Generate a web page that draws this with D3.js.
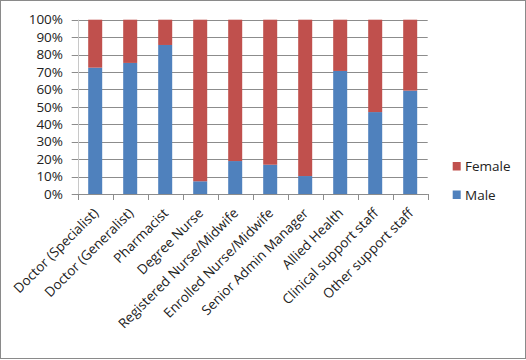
<!DOCTYPE html>
<html><head><meta charset="utf-8">
<script src="https://cdn.jsdelivr.net/npm/d3@7"></script>
<style>body{margin:0;background:#fff}svg{display:block}text{font-family:"Open Sans",sans-serif;fill:#222}</style>
</head><body><svg id="c" width="526" height="360"></svg>
<script>
const categories = ["Doctor (Specialist)","Doctor (Generalist)","Pharmacist","Degree Nurse","Registered Nurse/Midwife","Enrolled Nurse/Midwife","Senior Admin Manager","Allied Health","Clinical support staff","Other support staff"];
const male = [72.5, 75.2, 85.5, 7.3, 18.9, 16.8, 10.3, 70.6, 47.0, 59.3];
const female = male.map(v => 100 - v);
const yTicks = [0,10,20,30,40,50,60,70,80,90,100];
const seriesNames = ["Female","Male"];
const colors = {Male:"#4F81BD", Female:"#C0504D"};

const svg = d3.select("#c");
svg.append("rect").attr("x",0.5).attr("y",0.5).attr("width",525).attr("height",358).attr("fill","#fff").attr("stroke","#8a8a8a");

const L=77.7, R=427.7, T=19.7, B=194;
const x = d3.scaleBand().domain(categories).range([L,R]).paddingInner(0.6).paddingOuter(0.3);
const y = d3.scaleLinear().domain([0,100]).range([B,T]);

// gridlines
svg.append("g").selectAll("line").data(yTicks).join("line")
  .attr("x1",L-6).attr("x2",R).attr("y1",d=>Math.round(y(d))+0.5).attr("y2",d=>Math.round(y(d))+0.5)
  .attr("stroke","#8c8c8c").attr("stroke-width",1);
// y axis line
svg.append("line").attr("x1",Math.round(L)+0.5).attr("x2",Math.round(L)+0.5).attr("y1",T).attr("y2",B)
  .attr("stroke","#c8c8c8");
// y labels
svg.append("g").selectAll("text").data(yTicks).join("text")
  .attr("x",63).attr("y",d=>y(d)).attr("dy","0.35em").attr("text-anchor","end")
  .attr("font-size","13.5px").text(d=>d+"%");

// stacked bars
const rows = categories.map((c,i)=>({cat:c, Male:male[i], Female:female[i]}));
const stack = d3.stack().keys(["Male","Female"])(rows);
svg.append("g").selectAll("g").data(stack).join("g").attr("fill",d=>colors[d.key])
  .selectAll("rect").data(d=>d).join("rect")
  .attr("x",d=>x(d.data.cat)).attr("width",x.bandwidth())
  .attr("y",d=>y(d[1])).attr("height",d=>y(d[0])-y(d[1]));

// x axis line and ticks
const step = (R-L)/categories.length;
svg.append("line").attr("x1",L).attr("x2",R).attr("y1",Math.round(B)+0.5).attr("y2",Math.round(B)+0.5).attr("stroke","#8c8c8c");
svg.append("g").selectAll("line").data(d3.range(categories.length+1)).join("line")
  .attr("x1",i=>Math.round(L+i*step)+0.5).attr("x2",i=>Math.round(L+i*step)+0.5)
  .attr("y1",B).attr("y2",B+6).attr("stroke","#8c8c8c");
// x labels
svg.append("g").selectAll("text").data(categories).join("text")
  .attr("text-anchor","end").attr("font-size","13.5px")
  .attr("transform",d=>`translate(${x(d)+x.bandwidth()/2+4},${B+20}) rotate(-45)`)
  .text(d=>d);

// legend
const lg = svg.append("g");
seriesNames.forEach((s,i)=>{
  const yy = 162 + i*28.5;
  lg.append("rect").attr("x",452.7).attr("y",yy).attr("width",8).attr("height",8.5).attr("fill",colors[s]);
  lg.append("text").attr("x",465).attr("y",yy+4.5).attr("dy","0.35em").attr("font-size","13.5px").text(s);
});
</script></body></html>
